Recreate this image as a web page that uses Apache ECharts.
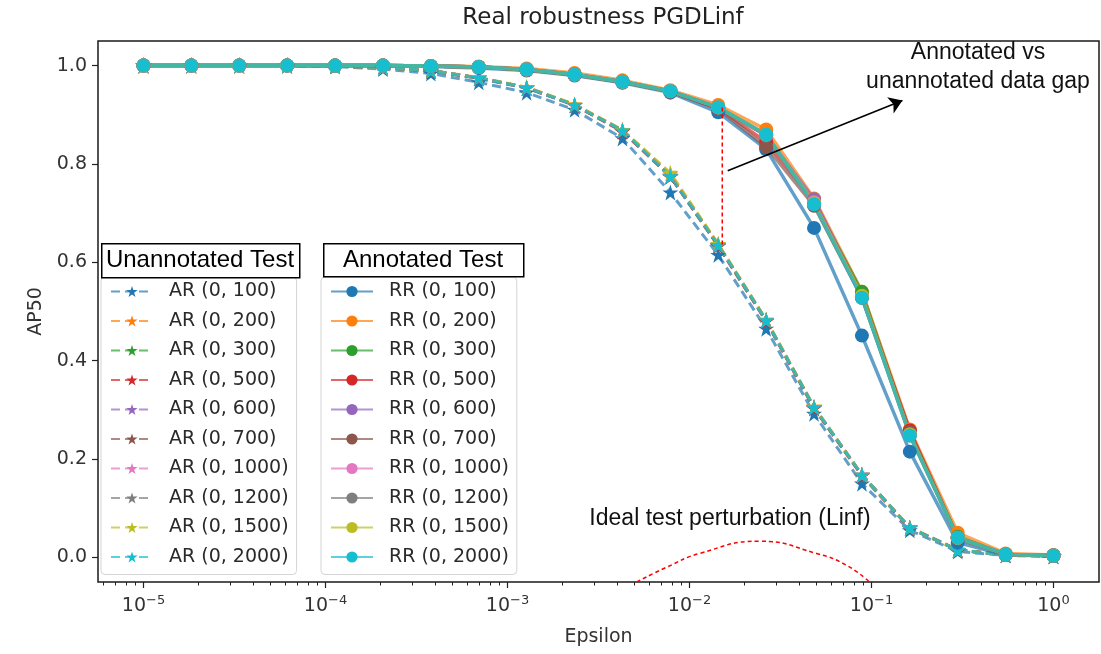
<!DOCTYPE html>
<html>
<head>
    <meta charset="utf-8">
    <title>Real robustness PGDLinf</title>
    <script src="https://cdn.jsdelivr.net/npm/echarts@6/dist/echarts.min.js"></script>
    <style>
        html, body { margin: 0; padding: 0; background: #fff; }
        #main { width: 1101px; height: 654px; }
    </style>
</head>
<body>
<div id="main"></div>
<script type="text/javascript">

    // epsilon values (logspace 1e-5 .. 1, 20 steps)
    var epsilon = [1.000e-5, 1.833e-5, 3.360e-5, 6.158e-5, 1.129e-4, 2.069e-4, 3.793e-4, 6.952e-4,
        1.274e-3, 2.336e-3, 4.281e-3, 7.848e-3, 1.438e-2, 2.637e-2, 4.833e-2, 8.859e-2,
        1.624e-1, 2.976e-1, 5.456e-1, 1.000];

    var sizes = ['100', '200', '300', '500', '600', '700', '1000', '1200', '1500', '2000'];
    var colors = ['#1f77b4', '#ff7f0e', '#2ca02c', '#d62728', '#9467bd',
        '#8c564b', '#e377c2', '#7f7f7f', '#bcbd22', '#17becf'];

    // unannotated test (AR), dashed + star
    var ar100  = [1.0, 1.0, 1.0, 1.0, 0.998, 0.993, 0.984, 0.966, 0.945, 0.910, 0.852, 0.742, 0.615, 0.465, 0.292, 0.150, 0.055, 0.012, 0.004, 0.002];
    var ar200  = [1.0, 1.0, 1.0, 1.0, 0.999, 0.996, 0.990, 0.975, 0.956, 0.921, 0.869, 0.780, 0.637, 0.483, 0.306, 0.168, 0.061, 0.016, 0.005, 0.003];
    var ar300  = [1.0, 1.0, 1.0, 1.0, 0.999, 0.996, 0.989, 0.974, 0.955, 0.920, 0.867, 0.775, 0.634, 0.481, 0.304, 0.167, 0.060, 0.015, 0.005, 0.003];
    var ar500  = [1.0, 1.0, 1.0, 1.0, 0.999, 0.996, 0.990, 0.975, 0.955, 0.919, 0.866, 0.774, 0.633, 0.480, 0.303, 0.166, 0.059, 0.015, 0.005, 0.003];
    var ar600  = [1.0, 1.0, 1.0, 1.0, 0.999, 0.996, 0.990, 0.974, 0.954, 0.920, 0.868, 0.776, 0.635, 0.482, 0.305, 0.168, 0.060, 0.015, 0.005, 0.003];
    var ar700  = [1.0, 1.0, 1.0, 1.0, 0.999, 0.996, 0.989, 0.975, 0.955, 0.920, 0.867, 0.775, 0.634, 0.481, 0.304, 0.167, 0.060, 0.015, 0.005, 0.003];
    var ar1000 = [1.0, 1.0, 1.0, 1.0, 0.999, 0.996, 0.990, 0.975, 0.955, 0.920, 0.868, 0.776, 0.635, 0.482, 0.305, 0.168, 0.060, 0.015, 0.005, 0.003];
    var ar1200 = [1.0, 1.0, 1.0, 1.0, 0.999, 0.996, 0.990, 0.975, 0.955, 0.920, 0.868, 0.775, 0.635, 0.482, 0.305, 0.167, 0.060, 0.015, 0.005, 0.003];
    var ar1500 = [1.0, 1.0, 1.0, 1.0, 0.999, 0.996, 0.990, 0.976, 0.956, 0.921, 0.869, 0.782, 0.637, 0.483, 0.306, 0.168, 0.060, 0.015, 0.005, 0.003];
    var ar2000 = [1.0, 1.0, 1.0, 1.0, 0.999, 0.996, 0.990, 0.975, 0.955, 0.920, 0.868, 0.775, 0.635, 0.482, 0.305, 0.168, 0.060, 0.015, 0.005, 0.003];

    // annotated test (RR), solid + circle
    var rr100  = [1.0, 1.0, 1.0, 1.0, 1.0, 1.0, 0.998, 0.995, 0.990, 0.980, 0.965, 0.945, 0.905, 0.830, 0.670, 0.451, 0.215, 0.030, 0.005, 0.003];
    var rr200  = [1.0, 1.0, 1.0, 1.0, 1.0, 1.0, 0.999, 0.998, 0.994, 0.985, 0.970, 0.950, 0.920, 0.870, 0.730, 0.540, 0.260, 0.050, 0.008, 0.005];
    var rr300  = [1.0, 1.0, 1.0, 1.0, 1.0, 1.0, 0.999, 0.997, 0.992, 0.982, 0.967, 0.948, 0.915, 0.860, 0.722, 0.540, 0.252, 0.042, 0.006, 0.004];
    var rr500  = [1.0, 1.0, 1.0, 1.0, 1.0, 1.0, 0.999, 0.997, 0.992, 0.982, 0.967, 0.947, 0.913, 0.845, 0.725, 0.532, 0.258, 0.040, 0.006, 0.004];
    var rr600  = [1.0, 1.0, 1.0, 1.0, 1.0, 1.0, 0.999, 0.997, 0.992, 0.982, 0.967, 0.948, 0.915, 0.858, 0.728, 0.530, 0.250, 0.040, 0.006, 0.004];
    var rr700  = [1.0, 1.0, 1.0, 1.0, 1.0, 1.0, 0.999, 0.997, 0.991, 0.981, 0.966, 0.947, 0.912, 0.835, 0.715, 0.528, 0.255, 0.038, 0.006, 0.004];
    var rr1000 = [1.0, 1.0, 1.0, 1.0, 1.0, 1.0, 0.999, 0.997, 0.992, 0.982, 0.967, 0.948, 0.915, 0.860, 0.722, 0.530, 0.250, 0.040, 0.006, 0.004];
    var rr1200 = [1.0, 1.0, 1.0, 1.0, 1.0, 1.0, 0.999, 0.997, 0.992, 0.982, 0.967, 0.948, 0.915, 0.858, 0.718, 0.528, 0.248, 0.040, 0.006, 0.004];
    var rr1500 = [1.0, 1.0, 1.0, 1.0, 1.0, 1.0, 0.999, 0.997, 0.992, 0.982, 0.967, 0.948, 0.915, 0.860, 0.720, 0.532, 0.250, 0.040, 0.006, 0.004];
    var rr2000 = [1.0, 1.0, 1.0, 1.0, 1.0, 1.0, 0.999, 0.997, 0.992, 0.982, 0.967, 0.948, 0.915, 0.860, 0.718, 0.528, 0.248, 0.040, 0.006, 0.004];

    var arData = [ar100, ar200, ar300, ar500, ar600, ar700, ar1000, ar1200, ar1500, ar2000];
    var rrData = [rr100, rr200, rr300, rr500, rr600, rr700, rr1000, rr1200, rr1500, rr2000];

    // annotations, in (log10 epsilon, AP50)
    var gapLine = [[-1.82, 0.915], [-1.82, 0.635]];
    var gapArrow = [[-1.79, 0.786], [-0.83, 0.929]];
    var idealArc = [[-2.29, -0.05], [-2.126, -0.02], [-1.945, 0.008], [-1.615, 0.033],
        [-1.302, 0.008], [-1.137, -0.016], [-1.011, -0.05]];

    var xTicks = [-5, -4, -3, -2, -1, 0];
    var yTicks = [0, 0.2, 0.4, 0.6, 0.8, 1.0];

    var starPath = 'path://M50,0 L61.8,35.4 L100,35.4 L69.1,57.3 L80.9,95.1 L50,72.4 L19.1,95.1 L30.9,57.3 L0,35.4 L38.2,35.4 Z';
    var logX = epsilon.map(function (e) { return Math.log10(e); });

    // minor log ticks 2..9 x 10^n inside the axis range
    var minorTicks = [];
    for (var n = -6; n <= 0; n++) {
        for (var k = 2; k <= 9; k++) {
            var v = n + Math.log10(k);
            if (v > -5.25 && v < 0.25) minorTicks.push(v);
        }
    }

    function pairs(ys) {
        return ys.map(function (y, i) { return [logX[i], y]; });
    }

    var series = [];
    var arNames = [], rrNames = [];
    for (var i = 0; i < sizes.length; i++) {
        var nm = 'AR (0, ' + sizes[i] + ')';
        arNames.push(nm);
        series.push({
            name: nm, type: 'line', data: pairs(arData[i]),
            symbol: starPath, symbolSize: 16,
            itemStyle: {color: colors[i]},
            lineStyle: {color: colors[i], width: 3, type: [9, 5], opacity: 0.7},
            emphasis: {disabled: true}
        });
    }
    for (var j = 0; j < sizes.length; j++) {
        var nm2 = 'RR (0, ' + sizes[j] + ')';
        rrNames.push(nm2);
        series.push({
            name: nm2, type: 'line', data: pairs(rrData[j]),
            symbol: 'circle', symbolSize: 14,
            itemStyle: {color: colors[j]},
            lineStyle: {color: colors[j], width: 3.5, opacity: 0.7},
            emphasis: {disabled: true}
        });
    }
    series.push({
        name: 'gap', type: 'line', data: gapLine, symbol: 'none', silent: true,
        lineStyle: {color: '#ff0000', width: 1.5, type: [4, 3]},
        markLine: {
            silent: true, symbol: ['none', 'arrow'], symbolSize: 13,
            label: {show: false},
            lineStyle: {color: '#000', width: 1.6, type: 'solid'},
            data: [[{coord: gapArrow[0]}, {coord: gapArrow[1]}]]
        },
        z: 5
    });
    series.push({
        name: 'ideal', type: 'line', data: idealArc, symbol: 'none', smooth: 0.5, silent: true,
        lineStyle: {color: '#ff0000', width: 1.5, type: [4, 3]}, z: 5
    });

    var legendBase = {
        orient: 'vertical', itemWidth: 42, itemHeight: 14, itemGap: 10.5,
        padding: [5, 8, 8, 9],
        backgroundColor: 'rgba(255,255,255,0.85)', borderColor: '#d4d4d4', borderWidth: 1, borderRadius: 4,
        textStyle: {fontFamily: 'DejaVu Sans', fontSize: 19, color: '#2a2a2a', lineHeight: 19, padding: [0, 0, 0, 11]},
        selectedMode: false
    };

    var myChart = echarts.init(document.getElementById('main'));
    var option = {
        animation: false,
        backgroundColor: '#fff',
        title: {
            text: 'Real robustness PGDLinf', left: 598, top: 2, textAlign: 'center',
            textStyle: {fontFamily: 'DejaVu Sans', fontSize: 23, fontWeight: 'normal', color: '#222'}
        },
        grid: {left: 98, right: 2, top: 41, bottom: 72, show: true, borderColor: '#1a1a1a', borderWidth: 1.5},
        legend: [
            Object.assign({}, legendBase, {left: 101, top: 277, data: arNames}),
            Object.assign({}, legendBase, {left: 321, top: 277, data: rrNames})
        ],
        xAxis: [{
            type: 'value', min: -5.25, max: 0.25,
            name: 'Epsilon', nameLocation: 'middle', nameGap: 46,
            nameTextStyle: {fontFamily: 'DejaVu Sans', fontSize: 19, color: '#333'},
            axisLine: {show: false, onZero: false},
            splitLine: {show: false},
            axisTick: {show: true, length: 6, customValues: xTicks, lineStyle: {color: '#222', width: 1.2}},
            axisLabel: {
                customValues: xTicks, margin: 12, color: '#333',
                formatter: function (v) {
                    return '{b|10}{s|' + (v < 0 ? '\u2212' + Math.abs(v) : '0') + '}';
                },
                rich: {
                    b: {fontFamily: 'DejaVu Sans', fontSize: 19, color: '#333'},
                    s: {fontFamily: 'DejaVu Sans', fontSize: 13, color: '#333', padding: [0, 0, 12, 0]}
                }
            }
        }, {
            type: 'value', min: -5.25, max: 0.25, position: 'bottom',
            axisLine: {show: false, onZero: false}, splitLine: {show: false}, axisLabel: {show: false},
            axisTick: {show: true, length: 3.5, customValues: minorTicks, lineStyle: {color: '#222', width: 1}}
        }],
        yAxis: {
            type: 'value', min: -0.05, max: 1.05,
            name: 'AP50', nameLocation: 'middle', nameGap: 52,
            nameTextStyle: {fontFamily: 'DejaVu Sans', fontSize: 19, color: '#333'},
            axisLine: {show: false, onZero: false},
            splitLine: {show: false},
            axisTick: {show: true, length: 6, customValues: yTicks, lineStyle: {color: '#222', width: 1.2}},
            axisLabel: {
                customValues: yTicks, margin: 11, color: '#333',
                fontFamily: 'DejaVu Sans', fontSize: 19,
                formatter: function (v) { return v.toFixed(1); }
            }
        },
        graphic: [
            {type: 'rect', left: 101, top: 243, z: 100, shape: {width: 198, height: 34},
                style: {fill: '#fff', stroke: '#000', lineWidth: 1.5}},
            {type: 'text', x: 200, y: 260, z: 101,
                style: {text: 'Unannotated Test', fill: '#000', font: '24px "Liberation Sans"', align: 'center', verticalAlign: 'middle'}},
            {type: 'rect', left: 323, top: 243, z: 100, shape: {width: 200, height: 33},
                style: {fill: '#fff', stroke: '#000', lineWidth: 1.5}},
            {type: 'text', x: 423, y: 260, z: 101,
                style: {text: 'Annotated Test', fill: '#000', font: '24px "Liberation Sans"', align: 'center', verticalAlign: 'middle'}},
            {type: 'text', x: 978, y: 67, z: 101,
                style: {text: 'Annotated vs\nunannotated data gap', fill: '#111', font: '23px "Liberation Sans"', lineHeight: 29, align: 'center', verticalAlign: 'middle'}},
            {type: 'text', x: 730, y: 519, z: 101,
                style: {text: 'Ideal test perturbation (Linf)', fill: '#111', font: '23px "Liberation Sans"', align: 'center', verticalAlign: 'middle'}}
        ],
        series: series
    };
    myChart.setOption(option);
</script>
</body>
</html>
